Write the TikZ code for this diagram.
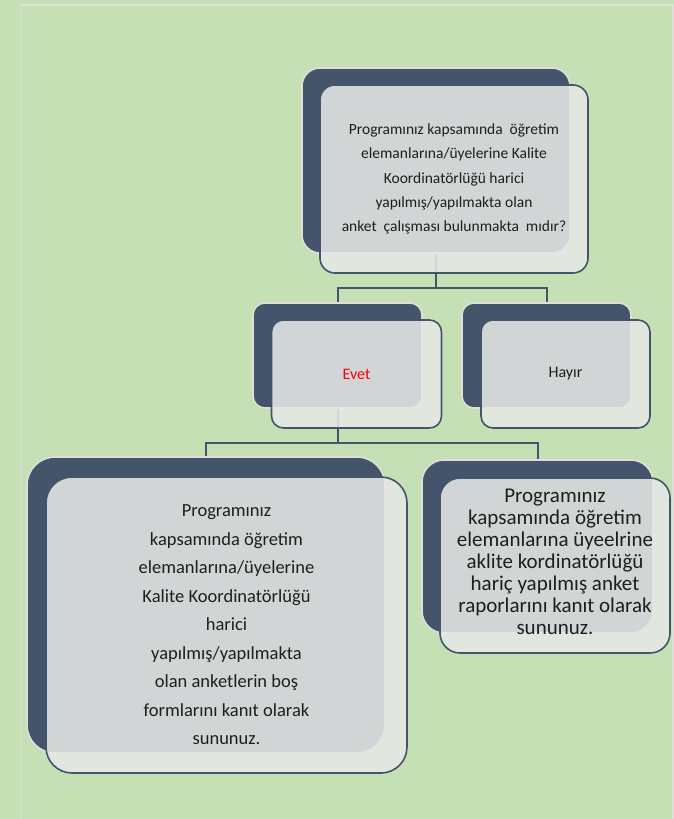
\documentclass[tikz,border=0pt]{standalone}
\usepackage{fontspec}
\setmainfont{Carlito}
\usetikzlibrary{positioning}

\definecolor{bggreen}{HTML}{C5E0B4}
\definecolor{slate}{HTML}{44546A}
\definecolor{rim}{HTML}{DEDFDC}
\definecolor{card}{HTML}{E6E7E6}
\definecolor{ink}{HTML}{1E1E1E}

\tikzset{
    back/.style={draw=rim, line width=1.6pt, fill=slate, rounded corners=#1},
    back/.default=18pt,
    front/.style={draw=slate, line width=1.6pt, fill=card, fill opacity=0.88,
        text opacity=1, text=ink, rounded corners=#1, align=center},
    front/.default=15pt,
    conn/.style={draw=slate, line width=2pt},
}

\begin{document}
\begin{tikzpicture}[x=1pt, y=-1pt, inner sep=0pt]
    \fill[bggreen] (0,0) rectangle (674,819);
    \useasboundingbox (0,0) rectangle (674,819);
    \draw[rim, line width=1.5pt] (20.5,819) -- (20.5,5) -- (673,5) -- (673,819);

    % Question
    \node[back, minimum width=268pt, minimum height=185pt] (qback) at (436,160.5) {};

    % Evet / Hayir
    \node[back=12pt, minimum width=169pt, minimum height=105pt] (evetback) at (337.5,355.5) {};
    \node[back=12pt, minimum width=169pt, minimum height=105pt] (hayirback) at (546.5,355.5) {};

    % Kanit
    \node[back=28pt, minimum width=358pt, minimum height=296pt] (kanitback) at (206,605) {};
    \node[back=22pt, minimum width=231pt, minimum height=173pt] (raporback) at (537.5,546.5) {};

    \draw[conn] (qback.south) -- ++(0,34) -| (evetback.north);
    \draw[conn] (qback.south) -- ++(0,34) -| (hayirback.north);
    \draw[conn] (evetback.south) -- ++(0,34) -| (kanitback.north);
    \draw[conn] (evetback.south) -- ++(0,34) -| (raporback.north);

    \node[front, minimum width=268pt, minimum height=188pt,
        font=\fontsize{15.5}{24.4}\selectfont] (qfront)
        at ([xshift=18pt, yshift=-18.5pt]qback.center) {
        Programınız kapsamında\ \ öğretim\\
        elemanlarına/üyelerine Kalite\\
        Koordinatörlüğü harici\\
        yapılmış/yapılmakta olan\\
        anket\ \ çalışması bulunmakta\ \ mıdır?
    };
    \node[front=12pt, minimum width=170pt, minimum height=108pt,
        font=\fontsize{16}{19}\selectfont] (evet)
        at ([xshift=19pt, yshift=-18.5pt]evetback.center) {\textcolor{red}{Evet}};
    \node[front=12pt, minimum width=169pt, minimum height=108pt,
        font=\fontsize{16}{19}\selectfont] (hayir)
        at ([xshift=19pt, yshift=-18.5pt]hayirback.center) {Hayır};

    \node[front=26pt, minimum width=361pt, minimum height=296pt,
        font=\fontsize{18.5}{28.5}\selectfont] (kanit)
        at ([xshift=20.5pt, yshift=-20pt]kanitback.center) {
        Programınız\\
        kapsamında öğretim\\
        elemanlarına/üyelerine\\
        Kalite Koordinatörlüğü\\
        harici\\
        yapılmış/yapılmakta\\
        olan anketlerin boş\\
        formlarını kanıt olarak\\
        sununuz.
    };
    \node[front=20pt, minimum width=230pt, minimum height=175pt] (rapor)
        at ([xshift=17.5pt, yshift=-19pt]raporback.center) {};
    \node[font=\fontsize{21}{22}\selectfont, text=ink, align=center] (raportext)
        at ([yshift=4pt]rapor.center) {
        Programınız\\
        kapsamında öğretim\\
        elemanlarına üyeelrine\\
        aklite kordinatörlüğü\\
        hariç yapılmış anket\\
        raporlarını kanıt olarak\\
        sununuz.
    };
\end{tikzpicture}
\end{document}
